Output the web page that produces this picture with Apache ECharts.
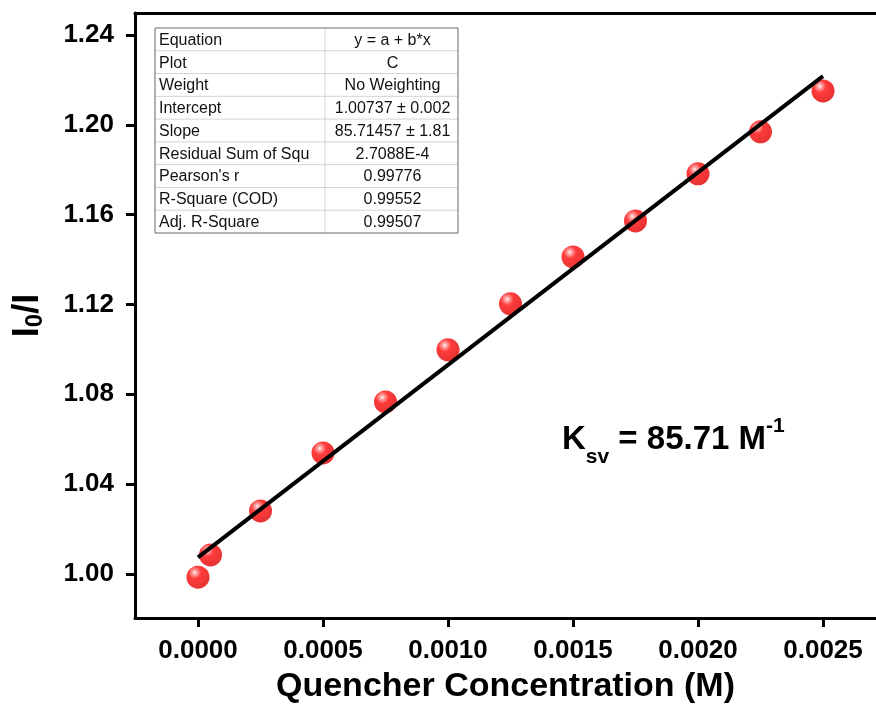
<!DOCTYPE html>
<html>
<head>
<meta charset="utf-8">
<title>Stern-Volmer plot</title>
<script src="https://cdn.jsdelivr.net/npm/echarts@6/dist/echarts.min.js"></script>
<style>
html, body { margin: 0; padding: 0; background: #fff; }
#chart { width: 876px; height: 718px; }
</style>
</head>
<body>
<div id="chart"></div>
<script>
// quencher concentration (M)
const concentration = [0, 0.00005, 0.00025, 0.0005, 0.00075, 0.001, 0.00125, 0.0015, 0.00175, 0.002, 0.00225, 0.0025];
// I0/I
const ratio = [0.9986, 1.0085, 1.0281, 1.0539, 1.0766, 1.0998, 1.1203, 1.1412, 1.1572, 1.1782, 1.1969, 1.2151];

// linear fit, y = a + b*x
const fitIntercept = 1.00737;
const fitSlope = 85.71457;
const fitRange = [0, 0.0025];

const xTicks = [0, 0.0005, 0.001, 0.0015, 0.002, 0.0025];
const yTicks = [1.00, 1.04, 1.08, 1.12, 1.16, 1.20, 1.24];

const tableKeys = ['Equation', 'Plot', 'Weight', 'Intercept', 'Slope', 'Residual Sum of Squ', "Pearson's r", 'R-Square (COD)', 'Adj. R-Square'];
const tableVals = ['y = a + b*x', 'C', 'No Weighting', '1.00737 \u00b1 0.002', '85.71457 \u00b1 1.81', '2.7088E-4', '0.99776', '0.99552', '0.99507'];

const FONT = '"Liberation Sans", Arial, sans-serif';

const chart = echarts.init(document.getElementById('chart'));

// fit table (top left corner of the plot)
const tblW = 303, tblH = 205, colX = 170;
const rowH = tblH / tableKeys.length;
const tableParts = [
  { type: 'rect', shape: { x: 0, y: 0, width: tblW, height: tblH }, style: { fill: '#fff' } }
];
for (let i = 1; i < tableKeys.length; i++) {
  tableParts.push({ type: 'line', shape: { x1: 0, y1: i * rowH, x2: tblW, y2: i * rowH }, style: { stroke: '#d4d4d4', lineWidth: 1 } });
}
tableParts.push({ type: 'line', shape: { x1: colX, y1: 0, x2: colX, y2: tblH }, style: { stroke: '#d4d4d4', lineWidth: 1 } });
tableParts.push({ type: 'rect', shape: { x: 0, y: 0, width: tblW, height: tblH }, style: { fill: null, stroke: '#666', lineWidth: 1 } });
tableKeys.forEach((k, i) => {
  tableParts.push({ type: 'text', x: 4, y: i * rowH + rowH / 2 + 1,
    style: { text: k, fontSize: 16, fontFamily: FONT, fill: '#111', align: 'left', verticalAlign: 'middle' } });
  tableParts.push({ type: 'text', x: (colX + tblW) / 2 + 1, y: i * rowH + rowH / 2 + 1,
    style: { text: tableVals[i], fontSize: 16, fontFamily: FONT, fill: '#111', align: 'center', verticalAlign: 'middle' } });
});

const sphere = new echarts.graphic.RadialGradient(0.36, 0.3, 0.72, [
  { offset: 0, color: '#fff0f0' },
  { offset: 0.14, color: '#ff8a8a' },
  { offset: 0.38, color: '#ff0a0a' },
  { offset: 1, color: '#e00000' }
]);

chart.setOption({
  animation: false,
  backgroundColor: '#fff',
  grid: { left: 135, top: 13, right: 0, bottom: 100, containLabel: false },
  xAxis: [
    {
      type: 'value',
      min: -0.000252,
      max: 0.002712,
      name: 'Quencher Concentration (M)',
      nameLocation: 'middle',
      nameGap: 52,
      nameTextStyle: { fontSize: 34, fontWeight: 'bold', fontFamily: FONT, color: '#000' },
      axisLine: { onZero: false, lineStyle: { color: '#000', width: 3 } },
      axisTick: { show: true, length: 9, lineStyle: { color: '#000', width: 3 }, customValues: xTicks },
      axisLabel: { customValues: xTicks, margin: 20, fontSize: 26, fontWeight: 'bold', fontFamily: FONT, color: '#000',
        formatter: v => v.toFixed(4) },
      splitLine: { show: false }
    },
    {
      type: 'value',
      position: 'top',
      min: -0.000252,
      max: 0.002712,
      axisLine: { show: true, onZero: false, lineStyle: { color: '#000', width: 3 } },
      axisTick: { show: false },
      axisLabel: { show: false },
      splitLine: { show: false }
    }
  ],
  yAxis: {
    type: 'value',
    min: 0.9804,
    max: 1.2498,
    name: '{a|I}{b|0}{a|/I}',
    nameLocation: 'middle',
    nameGap: 88,
    nameRotate: 90,
    nameTextStyle: {
      rich: {
        a: { fontSize: 36, fontWeight: 'bold', fontFamily: FONT, color: '#000' },
        b: { fontSize: 24, fontWeight: 'bold', fontFamily: FONT, color: '#000', padding: [14, 0, 0, 0] }
      }
    },
    axisLine: { show: true, onZero: false, lineStyle: { color: '#000', width: 3 } },
    axisTick: { show: true, length: 9, lineStyle: { color: '#000', width: 3 }, customValues: yTicks },
    axisLabel: { customValues: yTicks, margin: 21, fontSize: 26, fontWeight: 'bold', fontFamily: FONT, color: '#000',
      formatter: v => v.toFixed(2) },
    splitLine: { show: false }
  },
  graphic: [
    { type: 'group', x: 155, y: 28, z: 10, children: tableParts },
    {
      type: 'text', x: 562, y: 440, z: 10,
      style: {
        text: '{k|K}{sub|sv}{k| = 85.71 M}{sup|-1}',
        verticalAlign: 'middle',
        rich: {
          k: { fontSize: 33, fontWeight: 'bold', fontFamily: FONT, fill: '#000', color: '#000' },
          sub: { fontSize: 21, fontWeight: 'bold', fontFamily: FONT, fill: '#000', color: '#000', padding: [34, 0, 0, 0] },
          sup: { fontSize: 21, fontWeight: 'bold', fontFamily: FONT, fill: '#000', color: '#000', padding: [0, 0, 28, 0] }
        }
      }
    }
  ],
  series: [
    {
      type: 'scatter',
      data: concentration.map((x, i) => [x, ratio[i]]),
      symbol: 'circle',
      symbolSize: 23,
      itemStyle: { color: sphere },
      z: 2
    },
    {
      type: 'line',
      data: fitRange.map(x => [x, fitIntercept + fitSlope * x]),
      showSymbol: false,
      lineStyle: { color: '#000', width: 4 },
      z: 3
    }
  ]
});
</script>
</body>
</html>
